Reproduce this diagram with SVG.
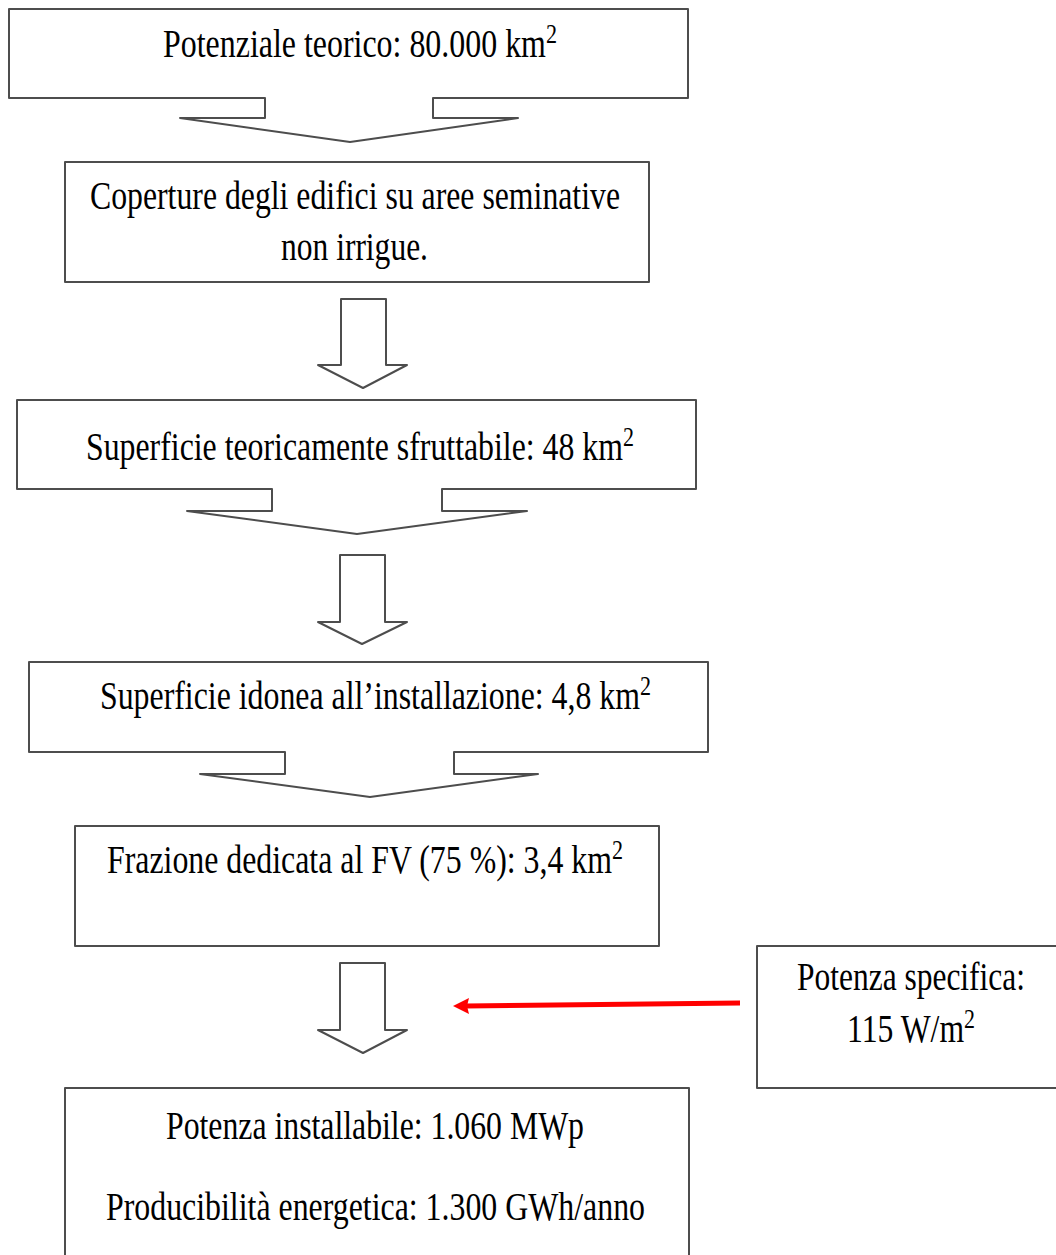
<svg xmlns="http://www.w3.org/2000/svg" width="1056" height="1255" viewBox="0 0 1056 1255">
<style>
.shape{fill:#fff;stroke:#4d4d4d;stroke-width:2;stroke-linejoin:round}
.t{font-family:"Liberation Serif","Times New Roman",serif;font-size:39px;fill:#000}
.sup{font-size:27px}
.red{stroke:#ff0000;stroke-width:5;fill:none}
.redhead{fill:#ff0000}
</style>
<rect width="1056" height="1255" fill="#fff"/>
<g id="node1">
<path class="shape" d="M9,9 H688 V98 H433 V118 H518 L350,142 L180,118 H265 V98 H9 Z"/>
<text class="t" x="163" y="57" textLength="394" lengthAdjust="spacingAndGlyphs">Potenziale teorico: 80.000 km<tspan class="sup" dy="-14">2</tspan></text>
</g>
<g id="node2">
<rect class="shape" x="65" y="162" width="584" height="120"/>
<text class="t" x="90" y="209" textLength="530" lengthAdjust="spacingAndGlyphs">Coperture degli edifici su aree seminative</text>
<text class="t" x="281" y="260" textLength="147" lengthAdjust="spacingAndGlyphs">non irrigue.</text>
</g>
<g id="node3">
<path class="shape" d="M17,400 H696 V489 H442 V511 H527 L357,534 L187,511 H272 V489 H17 Z"/>
<text class="t" x="86" y="460" textLength="548" lengthAdjust="spacingAndGlyphs">Superficie teoricamente sfruttabile: 48 km<tspan class="sup" dy="-14">2</tspan></text>
</g>
<g id="node4">
<path class="shape" d="M29,662 H708 V752 H454 V774 H538 L370,797 L200,774 H285 V752 H29 Z"/>
<text class="t" x="100" y="709" textLength="551" lengthAdjust="spacingAndGlyphs">Superficie idonea all’installazione:  4,8 km<tspan class="sup" dy="-14">2</tspan></text>
</g>
<g id="node5">
<rect class="shape" x="75" y="826" width="584" height="120"/>
<text class="t" x="107" y="873" textLength="516" lengthAdjust="spacingAndGlyphs">Frazione dedicata al FV (75 %): 3,4 km<tspan class="sup" dy="-14">2</tspan></text>
</g>
<g id="node6">
<rect class="shape" x="757" y="946" width="300" height="142"/>
<text class="t" x="797" y="990" textLength="228" lengthAdjust="spacingAndGlyphs">Potenza specifica:</text>
<text class="t" x="847" y="1042" textLength="128" lengthAdjust="spacingAndGlyphs">115 W/m<tspan class="sup" dy="-14">2</tspan></text>
</g>
<g id="node7">
<rect class="shape" x="65" y="1088" width="624" height="180"/>
<text class="t" x="166" y="1139" textLength="418" lengthAdjust="spacingAndGlyphs">Potenza installabile: 1.060 MWp</text>
<text class="t" x="106" y="1220" textLength="539" lengthAdjust="spacingAndGlyphs">Producibilità energetica: 1.300 GWh/anno</text>
</g>
<g id="connectors">
<path class="shape" d="M341,299 H386 V365 H407 L363,388 L318,365 H341 Z"/>
<path class="shape" d="M340,555 H385 V622 H407 L362,644 L318,622 H340 Z"/>
<path class="shape" d="M340,963 H385 V1030 H407 L363,1053 L318,1030 H340 Z"/>
<line class="red" x1="740" y1="1003" x2="466" y2="1006"/>
<path class="redhead" d="M453,1006 L469,998 L467,1006 L469,1014 Z"/>
</g>
</svg>
